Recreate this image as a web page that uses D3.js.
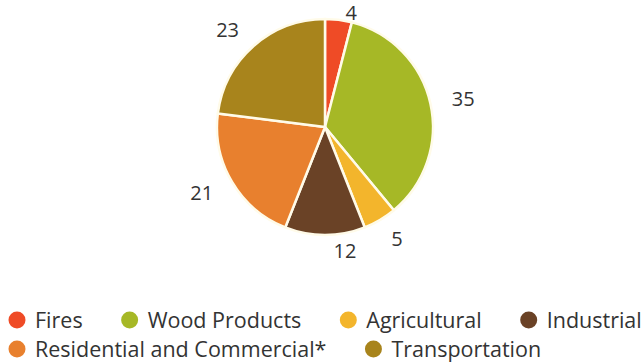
<!DOCTYPE html>
<html><head><meta charset="utf-8">
<script src="https://cdn.jsdelivr.net/npm/d3@7"></script>
<style>body{margin:0;background:#fff;} text{font-family:"Open Sans",sans-serif;}</style>
</head><body>
<svg id="c" width="641" height="364"></svg>
<script>
const categories = ["Fires","Wood Products","Agricultural","Industrial","Residential and Commercial*","Transportation"];
const values = [4,35,5,12,21,23];
const colors = ["#ef4b26","#a6b826","#f3b52c","#6a4226","#e8802e","#a8841c"];

const svg = d3.select("#c");
const cx = 325, cy = 127, r = 108, R = 130;
const data = categories.map((c,i)=>({cat:c, value:values[i], color:colors[i]}));
const pie = d3.pie().sort(null).value(d=>d.value);
const arcs = pie(data);
const arc = d3.arc().innerRadius(0).outerRadius(r);
const g = svg.append("g").attr("transform",`translate(${cx},${cy})`);
g.selectAll("path").data(arcs).join("path")
  .attr("d",arc).attr("fill",d=>d.data.color)
  .attr("stroke","#fffbe9").attr("stroke-width",2.5).attr("stroke-linejoin","round");

// labels: placed outside, aligned by side, kept inside the drawing
g.selectAll("text").data(arcs).join("text")
  .each(function(d){
    const a = (d.startAngle + d.endAngle)/2;
    const s = Math.sin(a), c = Math.cos(a);
    let y = Math.max(-cy + 13, Math.min(-R*c, 124));
    let x, anchor;
    if (Math.abs(s) < 0.3) { x = R*s + (c>0?10:20); anchor = "middle"; }
    else {
      const dx = Math.sqrt(Math.max(0, R*R - y*y));
      x = s > 0 ? dx : -dx; anchor = s > 0 ? "start" : "end";
    }
    d3.select(this).attr("x",x).attr("y",y).attr("text-anchor",anchor);
  })
  .attr("dy","0.35em").attr("font-size",20).attr("fill","#333")
  .text(d=>d.data.value);

// legend
const lg = svg.append("g");
const rows = [[0,1,2,3],[4,5]];
const rowY = [320,349];
rows.forEach((row,ri)=>{
  let x = 17;
  row.forEach(i=>{
    const it = lg.append("g").attr("transform",`translate(${x},${rowY[ri]})`);
    it.append("circle").attr("cx",0).attr("cy",0).attr("r",8.5).attr("fill",colors[i]);
    const t = it.append("text").attr("x",18).attr("dy","0.35em").attr("font-size",21.5).attr("fill","#333").text(categories[i]);
    x += 18 + t.node().getComputedTextLength() + 47;
  });
});
</script>
</body></html>
